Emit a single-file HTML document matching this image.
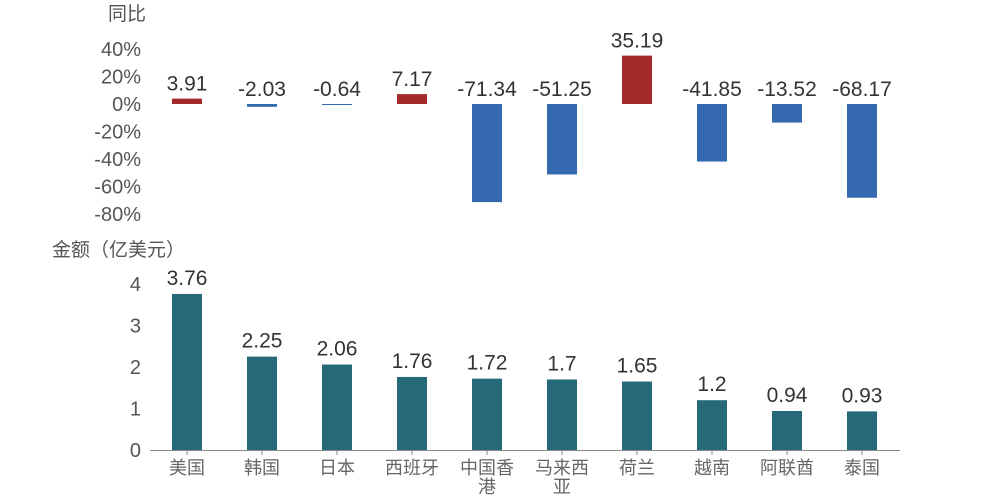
<!DOCTYPE html>
<html><head><meta charset="utf-8"><style>
body{margin:0;background:#fff;}
svg{display:block;font-family:"Liberation Sans","Noto Sans CJK SC",sans-serif;}
</style></head><body>
<svg id="c" width="1000" height="500">
<text x="108" y="20" font-size="19" fill="#555">同比</text>
<text x="52" y="256" font-size="19" fill="#555">金额（亿美元）</text>
<g id="topg"></g><g id="botg"></g>
</svg>
<script>
const categories=["美国","韩国","日本","西班牙","中国香港","马来西亚","荷兰","越南","阿联酋","泰国"];
const yoyValues=[3.91,-2.03,-0.64,7.17,-71.34,-51.25,35.19,-41.85,-13.52,-68.17];
const amountValues=[3.76,2.25,2.06,1.76,1.72,1.7,1.65,1.2,0.94,0.93];
const yoyTicks=[40,20,0,-20,-40,-60,-80];
const amtTicks=[0,1,2,3,4];
const NS="http://www.w3.org/2000/svg";
function mk(tag,attrs,parent,txt){const e=document.createElementNS(NS,tag);for(const k in attrs)e.setAttribute(k,attrs[k]);if(txt!==undefined)e.textContent=txt;parent.appendChild(e);return e;}
const xC=i=>187+75*i;
const yTop=v=>104-v*1.375;
const yBot=v=>450-v*41.5;
const gTop=document.getElementById('topg'),gBot=document.getElementById('botg');
yoyTicks.forEach(t=>{
 const e=mk('text',{x:141,y:yTop(t)+7,'text-anchor':'end','font-size':20,fill:'#555'},gTop,t+'%');
 
 
});
yoyValues.forEach((v,i)=>{
 const y0=yTop(Math.max(v,0)),h=Math.max(Math.abs(yTop(v)-yTop(0)),1);
 const r=mk('rect',{x:xC(i)-15,y:y0,width:30,height:h,fill:v>=0?'#a4292a':'#3469b0'},gTop);
 
 
 const ly=(v>=0?yTop(v):yTop(0))-8;
 const t=mk('text',{x:xC(i),y:ly,'text-anchor':'middle','font-size':21,fill:'#333'},gTop,v.toFixed(2));
 
 
});
amtTicks.forEach(t=>{
 const e=mk('text',{x:141,y:yBot(t)+7,'text-anchor':'end','font-size':20,fill:'#555'},gBot,String(t));
 
 
});
const ax=mk('line',{x1:150,x2:900,y1:450.5,y2:450.5,stroke:'#888','stroke-width':1},gBot);


amountValues.forEach((v,i)=>{
 const r=mk('rect',{x:xC(i)-15,y:yBot(v),width:30,height:yBot(0)-yBot(v),fill:'#266a7a'},gBot);
 
 
 const t=mk('text',{x:xC(i),y:yBot(v)-9,'text-anchor':'middle','font-size':21,fill:'#333'},gBot,String(v));
 
 
 const tk=mk('line',{x1:xC(i),x2:xC(i),y1:450,y2:455,stroke:'#888'},gBot);
 
 
 const name=categories[i];
 const lines=name.length>3?[name.slice(0,3),name.slice(3)]:[name];
 lines.forEach((s,j)=>{
  const l=mk('text',{x:xC(i),y:474+j*19,'text-anchor':'middle','font-size':18,fill:'#666'},gBot,s);
  
  
 });
});
</script>
</body></html>
